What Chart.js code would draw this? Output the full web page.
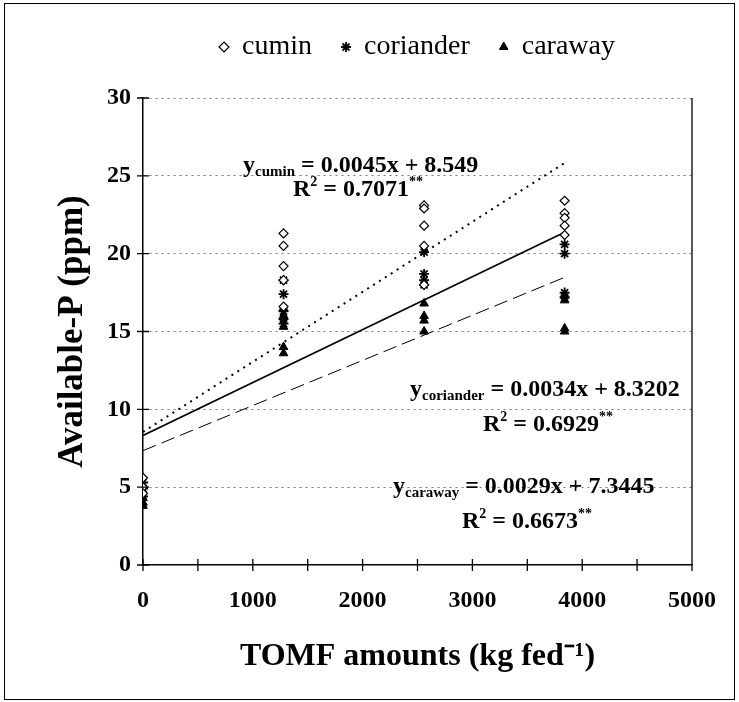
<!DOCTYPE html>
<html>
<head>
<meta charset="utf-8">
<script src="https://cdn.jsdelivr.net/npm/chart.js@4.4.1/dist/chart.umd.min.js"></script>
<style>
html, body { margin: 0; padding: 0; background: #fff; }
#wrap { position: relative; width: 739px; height: 702px; }
#marco { position: absolute; left: 4px; top: 3px; right: 4px; bottom: 2px; border: 1px solid #000; pointer-events: none; }
canvas { position: absolute; left: 0; top: 0; }
</style>
</head>
<body>
<div id="wrap"><canvas id="grafico" width="739" height="702"></canvas><div id="marco"></div></div>
<script>
// dosis de TOMF (kg fed-1) y lecturas de P disponible por dosis
const dosis = [0, 1280, 2560, 3840];
const cumin = [[5.6, 5.0, 4.6], [21.3, 20.5, 19.2, 18.3, 16.6], [23.1, 22.9, 21.8, 20.5, 18.0], [23.4, 22.6, 22.3, 21.8, 21.2]];
const coriander = [[5.3, 4.9, 4.4], [18.3, 17.4, 16.3, 15.8, 15.5], [20.1, 18.7, 18.3, 18.0], [20.6, 20.0, 17.5, 17.2]];
const caraway = [[4.3, 4.0, 3.8], [16.5, 16.0, 15.3, 14.0, 13.6], [16.8, 16.0, 15.7, 15.0], [17.3, 17.0, 15.2, 15.0]];

// rectas de regresion impresas en la figura
const pendientes = [0.0045, 0.0034, 0.0029];
const interceptos = [8.549, 8.3202, 7.3445];
const r2 = ["0.7071", "0.6929", "0.6673"];
const nombres = ["cumin", "coriander", "caraway"];
const xFin = 3840;

function puntos(serie) {
    let out = [];
    serie.forEach((vals, i) => vals.forEach(v => out.push({x: dosis[i], y: v})));
    return out;
}

function recta(i) {
    return [{x: 0, y: interceptos[i]}, {x: xFin, y: pendientes[i] * xFin + interceptos[i]}];
}

const serif = "'Liberation Serif', 'Times New Roman', serif";

// marcas cruzadas en los ejes y borde derecho
const marcas = {
    id: 'marcas',
    afterDraw(chart) {
        const {ctx, chartArea: a, scales: {x, y}} = chart;
        ctx.save();
        ctx.strokeStyle = '#000';
        ctx.lineWidth = 1.3;
        ctx.beginPath();
        ctx.moveTo(a.right, a.top);
        ctx.lineTo(a.right, a.bottom);
        x.ticks.forEach(t => {
            const px = x.getPixelForValue(t.value);
            ctx.moveTo(px, a.bottom - 6);
            ctx.lineTo(px, a.bottom + 6);
        });
        y.ticks.forEach(t => {
            const py = y.getPixelForValue(t.value);
            ctx.moveTo(a.left - 6, py);
            ctx.lineTo(a.left + 6, py);
        });
        ctx.stroke();
        ctx.restore();
    }
};

// ecuaciones con subindices y superindices
function escribir(ctx, x, y, partes) {
    partes.forEach(p => {
        ctx.font = "bold " + p[1] + "px " + serif;
        ctx.fillText(p[0], x, y + (p[2] || 0));
        x += ctx.measureText(p[0]).width;
    });
}

const ecuaciones = {
    id: 'ecuaciones',
    afterDatasetsDraw(chart) {
        const ctx = chart.ctx;
        ctx.save();
        ctx.fillStyle = '#000';
        ctx.textBaseline = 'alphabetic';
        const pos = [[243, 172, 293, 196], [410, 396, 483, 431], [393, 493, 462, 528]];
        for (let i = 0; i < 3; i++) {
            const p = pos[i];
            escribir(ctx, p[0], p[1], [["y", 24], [nombres[i], 15, 4],
                [" = " + pendientes[i] + "x + " + interceptos[i], 24]]);
            escribir(ctx, p[2], p[3], [["R", 24], ["2", 14, -10], [" = " + r2[i], 24], ["**", 14, -10]]);
        }
        ctx.restore();
    }
};

const ctx = document.getElementById('grafico');

let grafico = new Chart(ctx, {
    type: 'scatter',
    data: {
        datasets: [
            {label: 'cumin', data: puntos(cumin), pointStyle: 'rectRot', pointRadius: 4.5,
             borderColor: '#000', backgroundColor: '#fff', borderWidth: 1.2},
            {label: 'coriander', data: puntos(coriander), pointStyle: 'star', pointRadius: 5,
             borderColor: '#000', backgroundColor: '#000', borderWidth: 1.8},
            {label: 'caraway', data: puntos(caraway), pointStyle: 'triangle', pointRadius: 5,
             borderColor: '#000', backgroundColor: '#000', borderWidth: 1},
            {label: 'l1', type: 'line', data: recta(0), borderColor: '#000', borderWidth: 2,
             borderDash: [2, 5], pointRadius: 0, fill: false},
            {label: 'l2', type: 'line', data: recta(1), borderColor: '#000', borderWidth: 1.6,
             pointRadius: 0, fill: false},
            {label: 'l3', type: 'line', data: recta(2), borderColor: '#000', borderWidth: 1,
             borderDash: [14, 6], pointRadius: 0, fill: false}
        ]
    },
    options: {
        responsive: false,
        animation: false,
        layout: {padding: {top: 3, right: 47, bottom: 7, left: 0}},
        plugins: {
            legend: {
                position: 'top',
                fullSize: false,
                labels: {
                    usePointStyle: true,
                    boxWidth: 8,
                    boxHeight: 7,
                    padding: 30,
                    color: '#000',
                    font: {family: serif, size: 28},
                    filter: item => item.datasetIndex < 3
                }
            },
            title: {display: true, text: ' ', weight: 500, font: {size: 10}, padding: {top: 0, bottom: 15}},
            tooltip: {enabled: false}
        },
        scales: {
            x: {
                type: 'linear',
                min: 0,
                max: 5000,
                afterFit: s => { s.height = 130; },
                grid: {display: false},
                border: {color: '#000', width: 1.5},
                ticks: {
                    stepSize: 500,
                    padding: 13,
                    color: '#000',
                    font: {family: serif, size: 24, weight: 'bold'},
                    callback: v => (v % 1000 === 0 ? v : '')
                },
                title: {
                    display: true,
                    text: 'TOMF amounts (kg fed\u207B\u00B9)',
                    color: '#000',
                    font: {family: serif, size: 32, weight: 'bold'},
                    padding: {top: 4, bottom: 19}
                }
            },
            y: {
                min: 0,
                max: 30,
                afterFit: s => { s.width = 143; },
                grid: {
                    drawTicks: false,
                    color: c => (c.tick.value === 0 ? 'rgba(0,0,0,0)' : '#777'),
                    lineWidth: 1
                },
                border: {color: '#000', width: 1.5, dash: [2, 4]},
                ticks: {
                    stepSize: 5,
                    padding: 12,
                    color: '#000',
                    font: {family: serif, size: 24, weight: 'bold'}
                },
                title: {
                    display: true,
                    text: 'Available-P (ppm)',
                    color: '#000',
                    font: {family: serif, size: 35, weight: 'bold'},
                    padding: {top: 52, bottom: 4}
                }
            }
        }
    },
    plugins: [marcas, ecuaciones]
});
</script>
</body>
</html>
